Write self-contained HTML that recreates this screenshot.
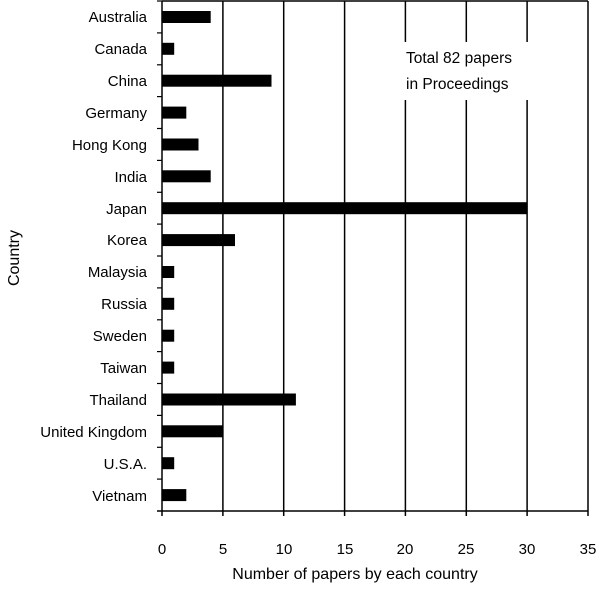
<!DOCTYPE html>
<html><head><style>body{margin:0;background:#fff}</style></head><body>
<svg width="600" height="594" xmlns="http://www.w3.org/2000/svg" font-family="Liberation Sans, sans-serif" font-size="15" fill="#000">
<rect width="600" height="594" fill="#fff"/>
<g stroke="#000" stroke-width="1.5">
<line x1="222.9" y1="1" x2="222.9" y2="516"/>
<line x1="283.7" y1="1" x2="283.7" y2="516"/>
<line x1="344.6" y1="1" x2="344.6" y2="516"/>
<line x1="405.4" y1="1" x2="405.4" y2="516"/>
<line x1="466.3" y1="1" x2="466.3" y2="516"/>
<line x1="527.1" y1="1" x2="527.1" y2="516"/>
<line x1="588" y1="1" x2="588" y2="516"/>
<line x1="162" y1="1" x2="588" y2="1"/>
<line x1="162" y1="1" x2="162" y2="516"/>
<line x1="157" y1="511" x2="588" y2="511"/>
</g>
<rect x="400" y="42" width="132" height="58" fill="#fff"/>
<text x="406" y="63" font-size="15.5">Total 82 papers</text>
<text x="406" y="89" font-size="15.5">in Proceedings</text>
<g stroke="#000" stroke-width="1.2">
<line x1="157" y1="1" x2="162" y2="1"/><line x1="157" y1="32.9" x2="162" y2="32.9"/><line x1="157" y1="64.8" x2="162" y2="64.8"/><line x1="157" y1="96.6" x2="162" y2="96.6"/><line x1="157" y1="128.5" x2="162" y2="128.5"/><line x1="157" y1="160.4" x2="162" y2="160.4"/><line x1="157" y1="192.3" x2="162" y2="192.3"/><line x1="157" y1="224.1" x2="162" y2="224.1"/><line x1="157" y1="256" x2="162" y2="256"/><line x1="157" y1="287.9" x2="162" y2="287.9"/><line x1="157" y1="319.8" x2="162" y2="319.8"/><line x1="157" y1="351.6" x2="162" y2="351.6"/><line x1="157" y1="383.5" x2="162" y2="383.5"/><line x1="157" y1="415.4" x2="162" y2="415.4"/><line x1="157" y1="447.3" x2="162" y2="447.3"/><line x1="157" y1="479.1" x2="162" y2="479.1"/>
</g>
<g>
<rect x="162" y="11" width="48.7" height="12"/>
<rect x="162" y="42.8" width="12.2" height="12"/>
<rect x="162" y="74.7" width="109.5" height="12"/>
<rect x="162" y="106.6" width="24.3" height="12"/>
<rect x="162" y="138.5" width="36.5" height="12"/>
<rect x="162" y="170.3" width="48.7" height="12"/>
<rect x="162" y="202.2" width="365.1" height="12"/>
<rect x="162" y="234.1" width="73" height="12"/>
<rect x="162" y="266" width="12.2" height="12"/>
<rect x="162" y="297.8" width="12.2" height="12"/>
<rect x="162" y="329.7" width="12.2" height="12"/>
<rect x="162" y="361.6" width="12.2" height="12"/>
<rect x="162" y="393.5" width="133.9" height="12"/>
<rect x="162" y="425.3" width="60.9" height="12"/>
<rect x="162" y="457.2" width="12.2" height="12"/>
<rect x="162" y="489.1" width="24.3" height="12"/>
</g>
<g text-anchor="end">
<text x="147" y="22">Australia</text>
<text x="147" y="54">Canada</text>
<text x="147" y="86">China</text>
<text x="147" y="118">Germany</text>
<text x="147" y="150">Hong Kong</text>
<text x="147" y="182">India</text>
<text x="147" y="214">Japan</text>
<text x="147" y="245">Korea</text>
<text x="147" y="277">Malaysia</text>
<text x="147" y="309">Russia</text>
<text x="147" y="341">Sweden</text>
<text x="147" y="373">Taiwan</text>
<text x="147" y="405">Thailand</text>
<text x="147" y="437">United Kingdom</text>
<text x="147" y="469">U.S.A.</text>
<text x="147" y="501">Vietnam</text>
</g>
<g text-anchor="middle">
<text x="162" y="554">0</text><text x="223" y="554">5</text><text x="284" y="554">10</text><text x="345" y="554">15</text><text x="405" y="554">20</text><text x="466" y="554">25</text><text x="527" y="554">30</text><text x="588" y="554">35</text>
<text x="355" y="579" font-size="16">Number of papers by each country</text>
<text transform="translate(19,258) rotate(-90)" font-size="16">Country</text>
</g>
</svg>
</body></html>
